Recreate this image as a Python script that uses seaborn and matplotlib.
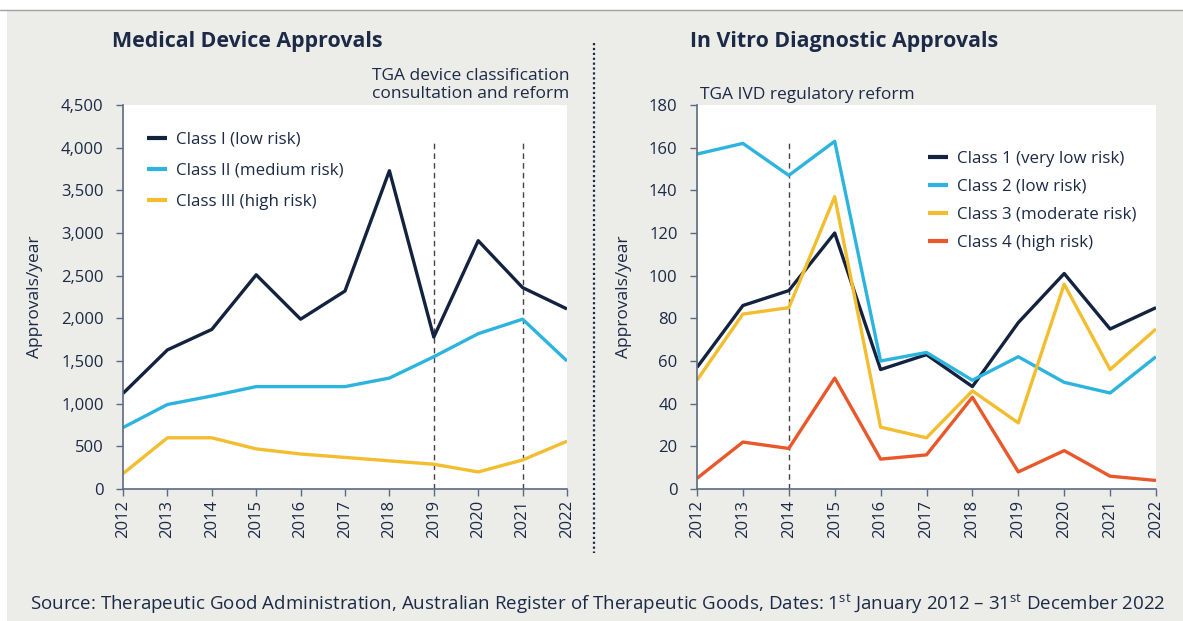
import matplotlib
matplotlib.use("Agg")
import matplotlib.pyplot as plt
import matplotlib.ticker as mticker
from matplotlib.patches import Rectangle
from matplotlib.lines import Line2D
import seaborn as sns
import pandas as pd

years = list(range(2012, 2023))

# Medical devices (approvals/year)
md_class1 = [1120, 1630, 1870, 2510, 1990, 2320, 3730, 1780, 2910, 2360, 2110]
md_class2 = [720, 990, 1090, 1200, 1200, 1200, 1300, 1550, 1820, 1990, 1500]
md_class3 = [180, 600, 600, 470, 410, 370, 330, 290, 200, 340, 560]
md_labels = ['Class I (low risk)', 'Class II (medium risk)', 'Class III (high risk)']

# In vitro diagnostics (approvals/year)
ivd_class1 = [57, 86, 93, 120, 56, 63, 48, 78, 101, 75, 85]
ivd_class2 = [157, 162, 147, 163, 60, 64, 51, 62, 50, 45, 62]
ivd_class3 = [51, 82, 85, 137, 29, 24, 46, 31, 96, 56, 75]
ivd_class4 = [5, 22, 19, 52, 14, 16, 43, 8, 18, 6, 4]
ivd_labels = ['Class 1 (very low risk)', 'Class 2 (low risk)',
              'Class 3 (moderate risk)', 'Class 4 (high risk)']

md_reform_years = [2019, 2021]
ivd_reform_years = [2014]

NAVY = '#13233f'
CYAN = '#2db4de'
YELLOW = '#f3bd30'
ORANGE = '#e8582a'
TEXT = '#1c2a47'
SPINE = '#5b6b82'
BG = '#ecece8'

sns.set_style('white')
plt.rcParams['font.family'] = ['Open Sans', 'DejaVu Sans']
plt.rcParams['mathtext.fontset'] = 'custom'
plt.rcParams['mathtext.rm'] = 'Open Sans'

md = pd.DataFrame({'year': years * 3,
                   'value': md_class1 + md_class2 + md_class3,
                   'series': [l for l in md_labels for _ in years]})
ivd = pd.DataFrame({'year': years * 4,
                    'value': ivd_class1 + ivd_class2 + ivd_class3 + ivd_class4,
                    'series': [l for l in ivd_labels for _ in years]})

fig = plt.figure(figsize=(11.83, 6.21), dpi=100)
fig.patch.set_facecolor('white')
fig.patches.append(Rectangle((7 / 1183, 0), 1, 1 - 10 / 621, transform=fig.transFigure,
                             facecolor=BG, edgecolor='none', zorder=-10))
fig.lines.append(Line2D([0, 1], [1 - 10 / 621] * 2, transform=fig.transFigure,
                        color='#a0a0a0', lw=1))

ax1 = fig.add_axes([123 / 1183, 1 - 489 / 621, 444 / 1183, 384 / 621])
ax2 = fig.add_axes([697 / 1183, 1 - 489 / 621, 459 / 1183, 384 / 621])

sns.lineplot(data=md, x='year', y='value', hue='series', hue_order=md_labels,
             palette=[NAVY, CYAN, YELLOW], linewidth=2.4, ax=ax1)
sns.lineplot(data=ivd, x='year', y='value', hue='series', hue_order=ivd_labels,
             palette=[NAVY, CYAN, YELLOW, ORANGE], linewidth=2.4, ax=ax2)

for ax, ymax, step, ylines in [(ax1, 4500, 500, md_reform_years),
                               (ax2, 180, 20, ivd_reform_years)]:
    ax.set_facecolor('white')
    ax.set_xlim(2012, 2022)
    ax.set_ylim(0, ymax)
    ax.set_xticks(years)
    ax.set_yticks(range(0, ymax + 1, step))
    ax.yaxis.set_major_formatter(mticker.FuncFormatter(lambda v, p: f'{v:,.0f}'))
    ax.tick_params(axis='x', rotation=90, labelsize=12, colors=TEXT, length=5,
                   width=1, color=SPINE, direction='out', bottom=True, pad=3)
    ax.tick_params(axis='y', labelsize=12, colors=TEXT, length=5, width=1,
                   color=SPINE, direction='out', left=True, pad=9)
    for s in ['top', 'right']:
        ax.spines[s].set_visible(False)
    for s in ['left', 'bottom']:
        ax.spines[s].set_color(SPINE)
        ax.spines[s].set_linewidth(1.2)
    ax.set_xlabel('')
    ax.set_ylabel('Approvals/year', fontsize=12.5, color=TEXT)
    for yr in ylines:
        ax.axvline(yr, ymin=0, ymax=0.91, color='#444444', lw=1, ls=(0, (4, 3)), zorder=1)
    for line in ax.lines:
        line.set_solid_capstyle('butt')

ax1.yaxis.set_label_coords(-(123 - 43) / 444, 0.5)
ax2.yaxis.set_label_coords(-(697 - 632) / 459, 0.5)

ax1.legend(loc='upper left', bbox_to_anchor=(0.02, 0.97), frameon=False, fontsize=12.2,
           handlelength=1.2, handletextpad=0.5, labelspacing=0.88, labelcolor=TEXT)
for h in ax1.get_legend().legend_handles:
    h.set_linewidth(3)
ax2.legend(loc='upper left', bbox_to_anchor=(0.47, 0.92), frameon=False, fontsize=12.2,
           handlelength=1.2, handletextpad=0.5, labelspacing=0.7, labelcolor=TEXT)
for h in ax2.get_legend().legend_handles:
    h.set_linewidth(3)

fig.text(112 / 1183, 1 - 42 / 621, 'Medical Device Approvals', fontsize=15.4,
         fontweight='bold', color=TEXT, va='center', ha='left')
fig.text(690 / 1183, 1 - 42 / 621, 'In Vitro Diagnostic Approvals', fontsize=15.4,
         fontweight='bold', color=TEXT, va='center', ha='left')
fig.text(569 / 1183, 1 - 85 / 621, 'TGA device classification\nconsultation and reform',
         fontsize=12.5, color=TEXT, ha='right', va='center', linespacing=1.25)
fig.text(700 / 1183, 1 - 95 / 621, 'TGA IVD regulatory reform', fontsize=12.5,
         color=TEXT, ha='left', va='center')

fig.lines.append(Line2D([594 / 1183] * 2, [1 - 43 / 621, 1 - 553 / 621],
                        transform=fig.transFigure, color=TEXT, lw=1.6, ls=(0, (1, 1.2))))

fig.text(598 / 1183, 1 - 604 / 621,
         'Source: Therapeutic Good Administration, Australian Register of Therapeutic Goods, '
         'Dates: 1$^{\\rm st}$ January 2012 \u2013 31$^{\\rm st}$ December 2022',
         fontsize=13.5, color=TEXT, ha='center', va='center')

fig.savefig('out.png', dpi=100, facecolor=fig.get_facecolor())
